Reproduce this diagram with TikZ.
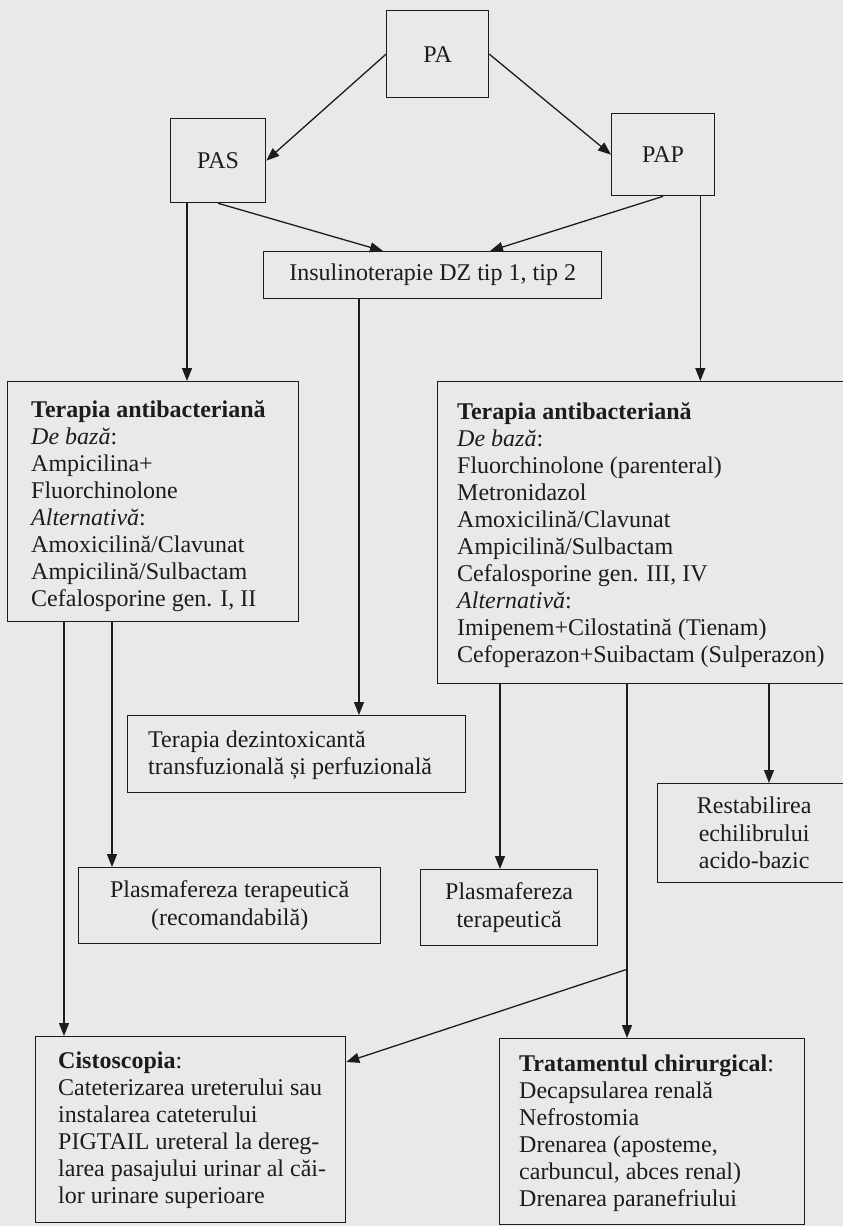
\documentclass[tikz,border=0pt]{standalone}
\usepackage{fontspec}
\setmainfont{Liberation Serif}
\usetikzlibrary{arrows.meta,calc}
\definecolor{paper}{RGB}{233,233,231}
\definecolor{ink}{RGB}{28,28,28}
\begin{document}
\begin{tikzpicture}[x=1pt,y=-1pt,
  box/.style={draw=ink, line width=1.3pt, rectangle, anchor=north west, inner sep=0pt,
    text=ink, align=center, font=\fontsize{24}{27.5}\selectfont},
  txt/.style={text=ink, align=left, inner sep=0pt, anchor=west, font=\fontsize{24}{27}\selectfont},
  ln/.style={draw=ink, line width=1.3pt},
  arr/.style={ln, -{Triangle[length=13pt,width=10pt]}}]
\fill[paper] (0,0) rectangle (843,1226);
\useasboundingbox (0,0) rectangle (843,1226);
\clip (0,0) rectangle (843,1226);

% boxes
\node[box, minimum width=102, minimum height=87] (PA) at (386,10) {PA};
\node[box, minimum width=95, minimum height=84] (PAS) at (170,118) {PAS};
\node[box, minimum width=103, minimum height=82] (PAP) at (611,113) {PAP};
\node[box, minimum width=338, minimum height=47] (Insul) at (263,251) {Insulinoterapie DZ tip 1, tip 2};
\node[box, minimum width=291, minimum height=240] (LT) at (7,381) {};
\node[box, minimum width=413, minimum height=302] (RT) at (437,381) {};
\node[box, minimum width=338, minimum height=77] (Dezin) at (127,715) {};
\node[box, minimum width=193, minimum height=99] (Restab) at (657,783) {Restabilirea\\echilibrului\\acido-bazic};
\node[box, minimum width=302, minimum height=76] (PlasR) at (78,867) {Plasmafereza terapeutică\\(recomandabilă)};
\node[box, minimum width=177, minimum height=76] (PlasT) at (420,869) {Plasmafereza\\terapeutică};
\node[box, minimum width=310, minimum height=186] (Cisto) at (35,1036) {};
\node[box, minimum width=305, minimum height=186] (Trat) at (499,1038) {};

% texts inside the large boxes
\node[txt] (LTt) at ($(LT.west)+(24,4)$) {\textbf{Terapia antibacteriană}\\
  \textit{De bază}:\\ Ampicilina+\\ Fluorchinolone\\ \textit{Alternativă}:\\
  Amoxicilină/Clavunat\\ Ampicilină/Sulbactam\\ Cefalosporine gen. I, II};
\node[txt] (RTt) at ($(RT.west)+(20,2)$) {\textbf{Terapia antibacteriană}\\
  \textit{De bază}:\\ Fluorchinolone (parenteral)\\ Metronidazol\\ Amoxicilină/Clavunat\\
  Ampicilină/Sulbactam\\ Cefalosporine gen. III, IV\\ \textit{Alternativă}:\\
  Imipenem+Cilostatină (Tienam)\\ Cefoperazon+Suibactam (Sulperazon)};
\node[txt] (Dezint) at ($(Dezin.west)+(21,1)$) {Terapia dezintoxicantă\\ transfuzională și perfuzională};
\node[txt] (Cistot) at ($(Cisto.west)+(23,1)$) {\textbf{Cistoscopia}:\\ Cateterizarea ureterului sau\\
  instalarea cateterului\\ PIGTAIL ureteral la dereg-\\ larea pasajului urinar al căi-\\
  lor urinare superioare};
\node[txt] (Tratt) at ($(Trat.west)+(20,2)$) {\textbf{Tratamentul chirurgical}:\\ Decapsularea renală\\
  Nefrostomia\\ Drenarea (aposteme,\\ carbuncul, abces renal)\\ Drenarea paranefriului};

% connectors
\draw[arr] (PA.west) -- (PAS.east);
\draw[arr] (PA.east) -- (PAP.west);
\draw[arr] (PAS.south) -- ($(Insul.north west)+(120,0)$);
\draw[arr] (PAP.south) -- ($(Insul.north west)+(227,0)$);
\draw[arr] ($(PAS.south west)+(17,0)$) coordinate (a1) -- (a1 |- LT.north);
\draw[arr] ($(PAP.south east)+(-15,0)$) coordinate (a2) -- (a2 |- RT.north);
\draw[arr] ($(Insul.south west)+(96,0)$) coordinate (a3) -- (a3 |- Dezin.north);
\draw[arr] ($(LT.south west)+(57,0)$) coordinate (a4) -- (a4 |- Cisto.north);
\draw[arr] ($(LT.south west)+(105,0)$) coordinate (a5) -- (a5 |- PlasR.north);
\draw[arr] ($(RT.south west)+(63,0)$) coordinate (a6) -- (a6 |- PlasT.north);
\draw[arr] ($(RT.south west)+(332,0)$) coordinate (a7) -- (a7 |- Restab.north);
\coordinate (a8) at ($(RT.south west)+(190,0)$);
\coordinate (split) at ($(RT.south west)+(190,285)$);
\draw[ln] (a8) -- (split);
\draw[arr] (split) -- (split |- Trat.north);
\draw[arr] (split) -- ($(Cisto.north east)+(0,26)$);
\end{tikzpicture}
\end{document}
